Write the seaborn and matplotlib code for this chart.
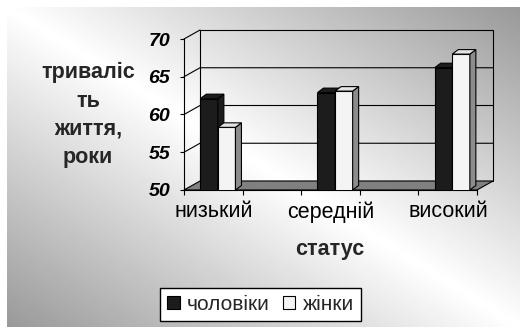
import numpy as np
import pandas as pd
import seaborn as sns
import matplotlib.pyplot as plt
import matplotlib.transforms as mtransforms
from matplotlib.patches import Polygon, Patch, Rectangle

# ---- data ----
categories = ["низький", "середній", "високий"]
series = ["чоловіки", "жінки"]
men = [62.1, 62.9, 66.2]
women = [58.3, 63.1, 68.0]
yticks = [50, 55, 60, 65, 70]
ylabel_text = "триваліс\nть\nжиття,\nроки"
xlabel_text = "статус"

sns.set_theme(style="ticks")
plt.rcParams['font.family'] = ['Liberation Sans', 'DejaVu Sans']

df = pd.DataFrame({
    "status": categories * 2,
    "value": men + women,
    "sex": [series[0]] * len(categories) + [series[1]] * len(categories),
})

W, H = 530, 334
fig = plt.figure(figsize=(W / 100, H / 100), dpi=100)
fig.patch.set_facecolor("white")

# background diagonal gradient
ax_bg = fig.add_axes([7 / W, 7 / H, 513 / W, 320 / H])
ax_bg.axis("off")
u = np.linspace(0, 1, 513)
v = np.linspace(0, 1, 320)
t = np.abs(u[None, :] - v[:, None])
img = 1 - 0.40 * t
ax_bg.imshow(img, cmap="gray", vmin=0, vmax=1, aspect="auto",
             extent=[0, 1, 0, 1], origin="upper", interpolation="bilinear")
ax_bg.set_zorder(0)

# main axes = front plane of the 3D box
ax_l, ax_r, ax_t, ax_b = 184, 477, 39, 190
ax = fig.add_axes([ax_l / W, (H - ax_b) / H, (ax_r - ax_l) / W, (ax_b - ax_t) / H])
ax.set_facecolor("none")
ax.set_zorder(1)

dark, light = "#1c1c1c", "#f4f4f4"
sns.barplot(data=df, x="status", y="value", hue="sex", hue_order=series,
            palette=[dark, light], width=0.3, saturation=1,
            edgecolor="black", linewidth=0.8, legend=False, ax=ax)
bars = sorted([p for p in ax.patches if isinstance(p, Rectangle) and p.get_height() > 0],
              key=lambda p: p.get_x())

xmin, xmax = -0.289, 2.211
ymin, ymax = yticks[0], yticks[-1]
ax.set_xlim(xmin, xmax)
ax.set_ylim(ymin, ymax)

axw = ax_r - ax_l
axh = ax_b - ax_t
px_x = (xmax - xmin) / axw
px_y = (ymax - ymin) / axh
DX, DY = 16 * px_x, 9 * px_y          # box depth
bdx, bdy = 6 * px_x, 4.5 * px_y       # bar depth

# floor
ax.add_patch(Polygon([(xmin, ymin), (xmax, ymin), (xmax + DX, ymin + DY), (xmin + DX, ymin + DY)],
                     closed=True, fc="#808080", ec="black", lw=0.8, clip_on=False, zorder=1))
# back wall
ax.add_patch(Polygon([(xmin + DX, ymin + DY), (xmax + DX, ymin + DY), (xmax + DX, ymax + DY), (xmin + DX, ymax + DY)],
                     closed=True, fill=False, ec="black", lw=0.8, clip_on=False, zorder=0.5))
for val in yticks[1:-1]:
    ax.plot([xmin, xmin + DX, xmax + DX], [val, val + DY, val + DY],
            color="black", lw=0.8, clip_on=False, zorder=0.5)
ax.plot([xmin, xmin + DX], [ymax, ymax + DY], color="black", lw=0.8, clip_on=False, zorder=0.5)

# 3D faces for bars
for k, rect in enumerate(bars):
    x0, w, h = rect.get_x(), rect.get_width(), rect.get_height()
    fc = rect.get_facecolor()
    is_dark = fc[0] < 0.5
    side_c = dark if is_dark else "#8c8c8c"
    top_c = dark if is_dark else "#e4e4e4"
    z = 10 + 2 * k
    rect.set_zorder(z)
    ax.add_patch(Polygon([(x0 + w, ymin), (x0 + w, h), (x0 + w + bdx, h + bdy), (x0 + w + bdx, ymin + bdy)],
                         closed=True, fc=side_c, ec="black", lw=0.8, zorder=z + 0.5))
    ax.add_patch(Polygon([(x0, h), (x0 + w, h), (x0 + w + bdx, h + bdy), (x0 + bdx, h + bdy)],
                         closed=True, fc=top_c, ec="black", lw=0.8, zorder=z + 0.5))

# spines and ticks
for s in ["top", "right"]:
    ax.spines[s].set_visible(False)
ax.spines["left"].set_color("black")
ax.spines["left"].set_linewidth(0.8)
ax.spines["bottom"].set_color("black")
ax.spines["bottom"].set_linewidth(0.8)

ax.set_yticks(yticks)
ax.set_yticklabels([str(y) for y in yticks], fontsize=14, fontweight="bold", fontstyle="italic")
ax.tick_params(axis="y", length=3, width=0.8, pad=7, direction="out", colors="black", left=True)

ax.set_xticks(range(len(categories)))
ax.set_xticklabels(categories, fontsize=15.5)
ax.tick_params(axis="x", which="major", length=0, pad=8, colors="black")
shift = mtransforms.ScaledTranslation(-4 / 100, 0, fig.dpi_scale_trans)
for lab in ax.get_xticklabels():
    lab.set_transform(lab.get_transform() + shift)
ax.set_xticks(np.arange(xmin, xmax + 0.01, 0.5), minor=True)
ax.tick_params(axis="x", which="minor", length=3.5, width=0.8, direction="out", bottom=True, color="black")
ax.set_xlabel("")
ax.set_ylabel("")

# axis titles
fig.text(88 / W, (H - 163) / H, ylabel_text, ha="center", va="baseline", fontsize=15.5,
         fontweight="bold", linespacing=1.45, multialignment="center")
fig.text(329.5 / W, (H - 255) / H, xlabel_text, ha="center", va="baseline", fontsize=15.5,
         fontweight="bold")

# legend
handles = [Patch(facecolor=dark, edgecolor="black", lw=0.8),
           Patch(facecolor=light, edgecolor="black", lw=0.8)]
leg = fig.legend(handles, series, loc="center", bbox_to_anchor=(260.5 / W, (H - 304.5) / H),
                 ncol=2, fontsize=15, frameon=True, fancybox=False, framealpha=1,
                 edgecolor="black", facecolor="white", handlelength=0.62, handleheight=0.62,
                 handletextpad=0.35, columnspacing=0.6, borderpad=0.35)
leg.get_frame().set_linewidth(1.0)
leg.set_zorder(5)

fig.savefig("out.png", dpi=100)
